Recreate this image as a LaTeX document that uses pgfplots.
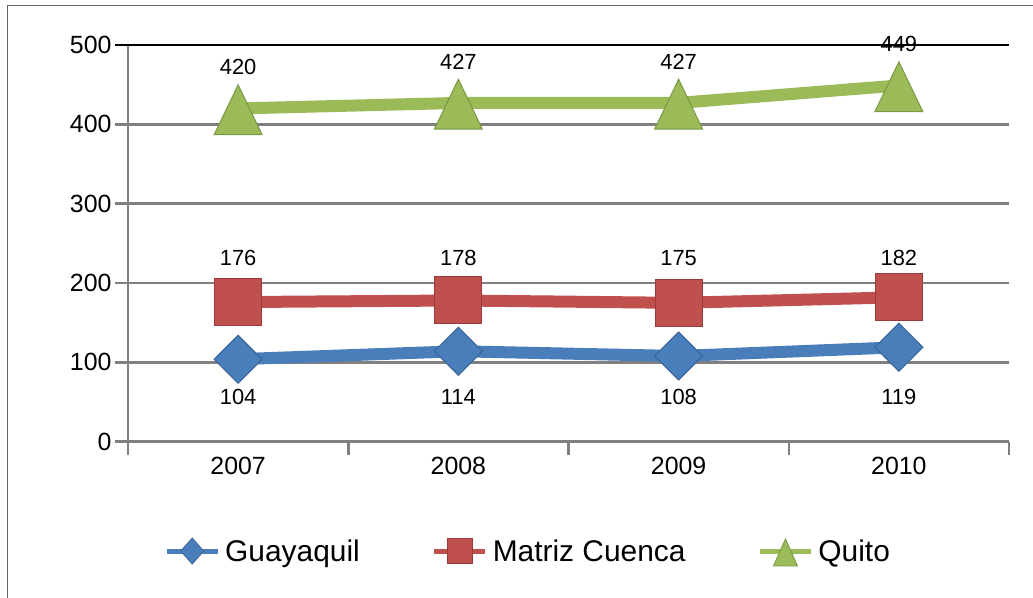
\documentclass[border=0pt]{standalone}
\usepackage{fontspec}
\setmainfont{Liberation Sans}
\usepackage{pgfplots}
\pgfplotsset{compat=1.18}

\definecolor{cblue}{HTML}{4A7EBB}
\definecolor{cblueD}{HTML}{3A6599}
\definecolor{cred}{HTML}{C0504D}
\definecolor{credD}{HTML}{9B3A38}
\definecolor{cgreen}{HTML}{9BBB59}
\definecolor{cgreenD}{HTML}{7A9845}
\definecolor{cgrid}{HTML}{808080}

\begin{document}
\begin{tikzpicture}
\useasboundingbox (-128bp,-156.3bp) rectangle (905bp,441.7bp);
\draw[color=black!60, line width=1bp] (-120bp,435.7bp) rectangle (960bp,-220bp);
\begin{axis}[
    scale only axis,
    width=881bp, height=396.7bp,
    xmin=-0.5, xmax=3.5,
    ymin=0, ymax=500,
    axis x line=bottom, axis y line=left,
    axis line style={draw=cgrid, line width=2.5bp, -},
    xtick={0,1,2,3},
    xticklabels={2007,2008,2009,2010},
    minor xtick={-0.5,0.5,1.5,2.5,3.5},
    ytick={0,100,200,300,400},
    extra y ticks={500},
    extra y tick style={grid style={black, line width=2bp}, tick style={black, line width=2bp}},
    ymajorgrids,
    grid style={cgrid, line width=2.5bp},
    tick align=outside,
    major tick length=13bp, minor tick length=13bp,
    tick style={cgrid, line width=2.5bp},
    major x tick style={draw=none},
    minor x tick style={draw=cgrid, line width=2.5bp},
    /pgf/number format/assume math mode=true,
    tick label style={font=\fontsize{25}{30}\selectfont, text=black},
    xticklabel style={yshift=1bp},
    legend style={at={(0.0409,-0.278)}, anchor=west, draw=none, fill=none,
        inner sep=0pt, font=\fontsize{30}{36}\selectfont,
        nodes={inner sep=0pt, anchor=west},
        /tikz/every odd column/.append style={column sep=5bp},
        /tikz/every even column/.append style={column sep=72bp}},
    legend columns=3,
    labels/.style={draw=none, mark=none, forget plot, nodes near coords, point meta=explicit,
        every node near coord/.append style={font=\fontsize{22}{26}\selectfont, text=black, anchor=center}},
  ]

\addplot[color=cblue, line width=12bp, mark=diamond*, mark size=24bp,
    mark options={xscale=1.333, fill=cblue, draw=cblueD, line width=1bp},
    legend image code/.code={
      \draw[cblue, line width=5bp, mark=diamond*, mark size=13bp, mark repeat=2, mark phase=2,
        mark options={xscale=1.18, fill=cblue, draw=cblueD, line width=0.8bp}]
        plot coordinates {(0bp,0bp) (25.5bp,0bp) (51bp,0bp)};}]
  coordinates {(0,104) (1,114) (2,108) (3,119)};

\addplot[color=cred, line width=12bp, mark=square*, mark size=23.5bp,
    mark options={fill=cred, draw=credD, line width=1bp},
    legend image code/.code={
      \draw[cred, line width=5bp, mark=square*, mark size=12.8bp, mark repeat=2, mark phase=2,
        mark options={fill=cred, draw=credD, line width=0.8bp}]
        plot coordinates {(0bp,0bp) (25.5bp,0bp) (51bp,0bp)};}]
  coordinates {(0,176) (1,178) (2,175) (3,182)};

\addplot[color=cgreen, line width=12bp, mark=triangle*, mark size=27.7bp,
    mark options={yscale=1.2, yshift=-8bp, fill=cgreen, draw=cgreenD, line width=1bp},
    nodes near coords,
    every node near coord/.append style={font=\fontsize{22}{26}\selectfont, text=black, anchor=center, yshift=51bp},
    legend image code/.code={
      \draw[cgreen, line width=5bp, mark=triangle*, mark size=13.9bp, mark repeat=2, mark phase=2,
        mark options={yscale=1.3, yshift=-4.5bp, fill=cgreen, draw=cgreenD, line width=0.8bp}]
        plot coordinates {(0bp,0bp) (25.5bp,0bp) (51bp,0bp)};}]
  coordinates {(0,420) (1,427) (2,427) (3,449)};

% value labels of the two lower series sit on one common row
\addplot[labels] coordinates {(0,57) [104] (1,57) [114] (2,57) [108] (3,57) [119]};
\addplot[labels] coordinates {(0,231.5) [176] (1,231.5) [178] (2,231.5) [175] (3,231.5) [182]};

\legend{Guayaquil, Matriz Cuenca, Quito}
\end{axis}
\end{tikzpicture}
\end{document}
